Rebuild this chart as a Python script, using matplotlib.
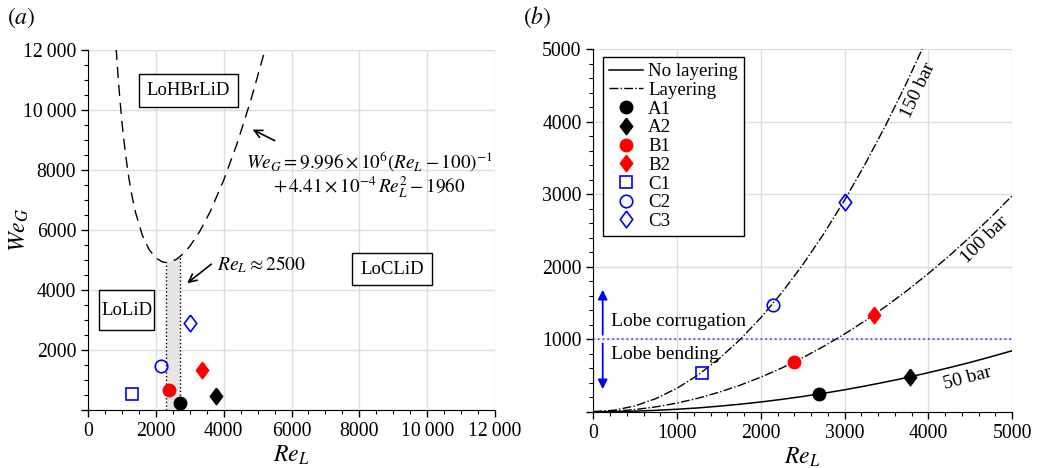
import matplotlib
matplotlib.use("Agg")
import matplotlib.pyplot as plt
from matplotlib.patches import Rectangle
from matplotlib.ticker import MultipleLocator, FuncFormatter

plt.rcParams['font.family'] = ['Liberation Serif', 'DejaVu Serif']
plt.rcParams['mathtext.fontset'] = 'stix'
plt.rcParams['font.size'] = 13.5

# ---- data: cases (Re_L, We_G) ----
case_names = ['A1', 'A2', 'B1', 'B2', 'C1', 'C2', 'C3']
case_re = [2700, 3780, 2400, 3350, 1300, 2140, 3000]
case_we = [240, 480, 680, 1330, 540, 1470, 2890]

# regime boundary curve in panel (a)
bound_re = [830, 900, 1000, 1100, 1200, 1300, 1400, 1600, 1800, 2000, 2200, 2300,
            2400, 2600, 2800, 3000, 3300, 3600, 4000, 4400, 4800, 5220]
bound_we = [12040, 10890, 9590, 8570, 7760, 7115, 6590, 5830, 5350, 5065, 4935, 4917,
            4926, 5020, 5200, 5455, 5965, 6610, 7660, 8900, 10330, 12010]

# transition band around Re_L ~ 2500
band_re = [2300, 2700]
band_top = [4917, 5100]

# layering / no-layering curves in panel (b)
curve_re = [0, 250, 500, 750, 1000, 1250, 1500, 1750, 2000, 2250, 2500, 2750,
            3000, 3250, 3500, 3750, 4000, 4250, 4500, 4750, 5000]
we_50bar = [0, 2, 8, 19, 34, 52, 76, 103, 134, 170, 210, 254,
            302, 355, 412, 472, 538, 607, 680, 758, 840]
we_100bar = [0, 7, 30, 67, 119, 186, 268, 364, 476, 602, 744, 900,
             1071, 1257, 1458, 1673, 1904, 2149, 2410, 2685, 2975]
we_150bar = [0, 20, 81, 182, 324, 506, 729, 992, 1296, 1640, 2025, 2450,
             2916, 3422, 3969, 4556, 5184]

# wide diamond like the reference
diamond = [(0, 1), (0.75, 0), (0, -1), (-0.75, 0), (0, 1)]

marker_style = {
    'A1': dict(marker='o', color='black', mfc='black', ms=9),
    'A2': dict(marker=diamond, color='black', mfc='black', ms=12),
    'B1': dict(marker='o', color='red', mfc='red', ms=9),
    'B2': dict(marker=diamond, color='red', mfc='red', ms=12),
    'C1': dict(marker='s', color='blue', mfc='none', ms=8, mew=1.2),
    'C2': dict(marker='o', color='blue', mfc='none', ms=9, mew=1.2),
    'C3': dict(marker=diamond, color='blue', mfc='none', ms=12, mew=1.2),
}


def thin_fmt(v, pos):
    if v == 0:
        return ''
    v = int(round(v))
    if v >= 10000:
        return '%d\u2009%03d' % (v // 1000, v % 1000)
    return '%d' % v


def style_axes(ax):
    ax.spines['top'].set_visible(False)
    ax.spines['right'].set_visible(False)
    ax.grid(True, which='major', color='#dddddd', lw=1.0)
    ax.set_axisbelow(True)
    ax.tick_params(which='major', direction='out', length=5, width=1, labelsize=14.2)
    ax.tick_params(which='minor', direction='out', length=3, width=0.8)
    ax.yaxis.set_major_formatter(FuncFormatter(thin_fmt))
    ax.xaxis.set_major_formatter(FuncFormatter(lambda v, p: thin_fmt(v, p) if v else '0'))


fig = plt.figure(figsize=(10.38, 4.68), dpi=100)
ax1 = fig.add_axes([0.0848, 0.1239, 0.3921, 0.7692])
ax2 = fig.add_axes([0.5716, 0.1203, 0.4034, 0.7750])

# ---------------- panel (a) ----------------
ax1.set_xlim(0, 12000)
ax1.set_ylim(0, 12000)
ax1.xaxis.set_major_locator(MultipleLocator(2000))
ax1.yaxis.set_major_locator(MultipleLocator(2000))
ax1.xaxis.set_minor_locator(MultipleLocator(500))
ax1.yaxis.set_minor_locator(MultipleLocator(500))
style_axes(ax1)

ax1.fill_between(band_re, [0, 0], band_top, color='#e6e6e6', lw=0, zorder=1)
for xr, yt in zip(band_re, band_top):
    ax1.plot([xr, xr], [0, yt], color='black', ls=':', lw=1.0, zorder=2)
ax1.plot(bound_re, bound_we, color='black', lw=1.0, dashes=(8, 5), zorder=2)

for n, x, y in zip(case_names, case_re, case_we):
    st = marker_style[n]
    ax1.plot([x], [y], ls='none', zorder=3, clip_on=False, **st)

ax1.text(2963, 10650, 'LoHBrLiD', ha='center', va='center',
         bbox=dict(boxstyle='square,pad=0.42', fc='white', ec='black', lw=1.0))
# LoLiD box is taller than the others
ax1.add_patch(Rectangle((324, 2667), 1622, 1333, fc='white', ec='black', lw=1.0, zorder=3))
ax1.text(1135, 3330, 'LoLiD', ha='center', va='center', zorder=4)
ax1.text(8962, 4700, 'LoCLiD', ha='center', va='center',
         bbox=dict(boxstyle='square,pad=0.42', fc='white', ec='black', lw=1.0))

ax1.text(8290, 8280, r'$We_G = 9.996\times10^6(Re_L - 100)^{-1}$',
         ha='center', va='center', fontsize=13.8)
ax1.text(8300, 7440, r'$+\,4.41\times10^{-4}\,Re_L^2 - 1960$',
         ha='center', va='center', fontsize=13.8)
ax1.annotate('', xy=(4780, 9390), xytext=(5575, 8940),
             arrowprops=dict(arrowstyle='->', color='black', lw=1.2, mutation_scale=14))
ax1.text(3800, 4830, r'$Re_L \approx 2500$', ha='left', va='center', fontsize=14)
ax1.annotate('', xy=(2860, 4170), xytext=(3700, 4920),
             arrowprops=dict(arrowstyle='->', color='black', lw=1.2, mutation_scale=14))

ax1.set_xlabel(r'$Re_L$', fontsize=17, labelpad=2)
ax1.set_ylabel(r'$We_G$', fontsize=17)
ax1.yaxis.set_label_coords(-0.14, 0.5)
fig.text(0.007, 0.963, r'$(a)$', fontsize=17, ha='left', va='center')

# ---------------- panel (b) ----------------
ax2.set_xlim(0, 5000)
ax2.set_ylim(0, 5000)
ax2.xaxis.set_major_locator(MultipleLocator(1000))
ax2.yaxis.set_major_locator(MultipleLocator(1000))
ax2.xaxis.set_minor_locator(MultipleLocator(200))
ax2.yaxis.set_minor_locator(MultipleLocator(200))
style_axes(ax2)

ln_no, = ax2.plot(curve_re, we_50bar, color='black', lw=1.1, label='No layering')
ln_lay, = ax2.plot(curve_re, we_100bar, color='black', lw=1.0, ls='-.', label='Layering')
ax2.plot(curve_re[:len(we_150bar)], we_150bar, color='black', lw=1.0, ls='-.')

ax2.axhline(1000, color='#5050ff', ls=':', lw=1.3)
ax2.annotate('', xy=(112, 1680), xytext=(112, 1060),
             arrowprops=dict(arrowstyle='-|>', color='blue', lw=1.3,
                             mutation_scale=14, shrinkA=0, shrinkB=0))
ax2.annotate('', xy=(112, 310), xytext=(112, 940),
             arrowprops=dict(arrowstyle='-|>', color='blue', lw=1.3,
                             mutation_scale=14, shrinkA=0, shrinkB=0))
ax2.text(210, 1240, 'Lobe corrugation', ha='left', va='center', fontsize=14)
ax2.text(210, 795, 'Lobe bending', ha='left', va='center', fontsize=14)

ax2.text(3877, 4435, '150 bar', rotation=65, ha='center', va='center', fontsize=14)
ax2.text(4677, 2367, '100 bar', rotation=45, ha='center', va='center', fontsize=14)
ax2.text(4466, 460, '50 bar', rotation=15, ha='center', va='center', fontsize=14)

handles = [ln_no, ln_lay]
for n, x, y in zip(case_names, case_re, case_we):
    st = marker_style[n]
    h, = ax2.plot([x], [y], ls='none', zorder=3, label=n, **st)
    handles.append(h)

leg = ax2.legend(handles=handles, loc='upper left', bbox_to_anchor=(0.023, 0.977),
                 borderaxespad=0, frameon=True, fancybox=False, edgecolor='black',
                 framealpha=1, handlelength=1.8, handletextpad=0.3, labelspacing=0.08,
                 borderpad=0.3, fontsize=13.6)
leg.get_frame().set_linewidth(1.0)

ax2.set_xlabel(r'$Re_L$', fontsize=17, labelpad=2)
fig.text(0.504, 0.963, r'$(b)$', fontsize=17, ha='left', va='center')

fig.savefig('out.png', dpi=100)
